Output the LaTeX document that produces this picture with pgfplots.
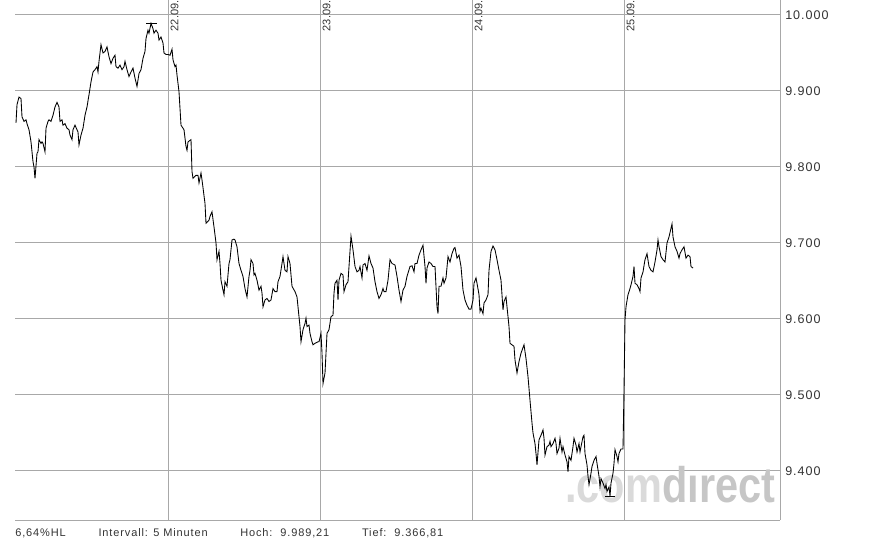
\documentclass[border=0pt]{standalone}
\usepackage{pgfplots}
\pgfplotsset{compat=1.18}
\usepackage{pgfplotstable}
\usepackage{fontspec}
\setmainfont{Liberation Sans}
\newfontfamily\spaced[LetterSpace=8]{Liberation Sans}

\definecolor{gridgray}{HTML}{A8A8A8}
\definecolor{labelgray}{HTML}{333333}
\definecolor{wmlight}{HTML}{DADADA}
\definecolor{wmdark}{HTML}{C6C6C6}

% x = 5-minute interval index (152 per trading day), y = index value
\pgfplotstableread{
x y
1 9858
2 9882
4 9892
6 9890
7 9866
9 9860
11 9862
12 9857
14 9849
16 9833
18 9807
19 9800
20 9785
22 9818
23 9820
24 9836
26 9831
27 9833
28 9831
30 9820
31 9851
33 9860
34 9862
36 9860
38 9868
40 9879
42 9885
44 9879
45 9860
47 9862
48 9855
50 9857
52 9851
54 9849
55 9842
57 9836
58 9849
60 9855
62 9849
63 9846
64 9829
66 9842
68 9851
70 9868
72 9879
74 9895
76 9912
78 9925
80 9928
82 9932
83 9925
84 9939
86 9961
88 9950
90 9952
92 9958
94 9945
96 9936
98 9943
100 9947
101 9932
103 9930
105 9934
107 9928
109 9932
110 9939
112 9928
114 9919
116 9925
118 9930
120 9917
122 9906
124 9923
126 9928
128 9943
130 9952
131 9969
133 9980
134 9976
136 9989
138 9982
139 9976
141 9980
143 9976
144 9967
146 9971
148 9963
149 9950
151 9948
153 9948
155 9947
157 9955
158 9941
160 9932
161 9934
162 9921
164 9899
166 9855
169 9849
171 9827
172 9822
173 9833
176 9836
177 9794
178 9785
181 9789
183 9789
184 9779
186 9792
187 9783
190 9752
191 9726
194 9730
195 9735
197 9741
199 9721
201 9700
202 9678
204 9689
205 9673
206 9651
208 9638
209 9632
210 9649
212 9643
214 9673
215 9678
217 9704
219 9705
220 9704
222 9695
224 9673
226 9664
228 9656
230 9640
232 9629
234 9656
235 9664
236 9678
238 9673
239 9658
240 9660
242 9651
244 9638
246 9643
247 9634
248 9616
250 9625
252 9627
254 9623
256 9625
258 9640
260 9636
262 9636
263 9649
265 9656
267 9673
268 9682
270 9664
272 9662
273 9682
275 9673
277 9643
280 9636
282 9629
284 9603
285 9590
286 9570
288 9586
290 9594
291 9601
292 9590
294 9592
295 9581
297 9570
298 9566
300 9568
303 9570
304 9570
306 9581
307 9555
308 9515
310 9529
311 9555
312 9581
314 9586
316 9603
318 9605
319 9634
320 9647
322 9651
323 9625
324 9651
326 9660
328 9658
329 9636
331 9645
333 9649
334 9669
336 9709
337 9700
338 9691
340 9669
342 9662
344 9664
345 9669
347 9654
348 9671
350 9673
352 9664
354 9683
356 9673
358 9667
360 9649
362 9636
364 9627
366 9632
368 9640
369 9636
371 9636
373 9651
375 9678
377 9673
380 9671
382 9656
384 9638
386 9623
388 9638
390 9643
392 9656
395 9669
397 9670
399 9662
400 9673
402 9673
404 9684
406 9691
408 9697
410 9669
411 9647
412 9667
414 9675
416 9673
418 9669
420 9669
422 9616
423 9607
424 9643
426 9643
428 9654
429 9647
431 9654
433 9682
435 9675
437 9686
439 9693
440 9694
442 9680
444 9684
446 9669
448 9638
450 9625
452 9618
454 9613
456 9613
458 9625
459 9647
461 9654
462 9647
464 9632
465 9610
466 9614
468 9607
469 9621
471 9625
473 9632
474 9664
476 9689
478 9696
480 9691
482 9678
484 9664
486 9651
488 9612
489 9623
491 9629
492 9616
494 9590
495 9568
497 9566
499 9564
500 9546
502 9529
504 9544
506 9555
509 9566
511 9548
513 9524
515 9493
517 9463
518 9450
520 9436
521 9423
522 9408
524 9441
526 9447
528 9454
529 9443
530 9421
532 9432
534 9434
535 9439
536 9432
538 9436
540 9443
541 9436
542 9423
544 9430
545 9443
547 9425
548 9432
550 9421
552 9412
553 9399
554 9419
556 9414
558 9432
559 9443
561 9434
562 9425
564 9436
565 9425
566 9432
568 9445
569 9447
570 9423
572 9408
573 9393
574 9382
576 9397
577 9406
579 9414
581 9419
582 9410
584 9393
585 9379
586 9390
588 9384
590 9377
591 9382
592 9373
594 9379
595 9367
596 9384
598 9397
599 9410
600 9428
602 9419
603 9412
604 9423
606 9429
608 9429
609 9507
610 9599
611 9616
613 9632
615 9640
616 9645
618 9656
619 9669
620 9647
622 9645
624 9640
625 9636
626 9654
628 9662
630 9678
632 9686
634 9669
636 9664
638 9662
640 9675
642 9691
643 9704
644 9695
646 9682
648 9678
650 9675
652 9700
654 9708
657 9725
658 9708
660 9695
662 9689
664 9680
665 9686
667 9691
669 9695
671 9680
673 9684
675 9682
676 9669
678 9667
}\kurs

\begin{document}
\begin{tikzpicture}[x=1pt,y=1pt]
\useasboundingbox (0,0) rectangle (671.25,406.5);
\begin{axis}[
    at={(11.25pt,16.5pt)}, anchor=south west,
    scale only axis, width=573.75pt, height=390pt,
    xmin=0, xmax=765,
    ymin=9335.5, ymax=10019.7,
    axis x line*=bottom, axis y line*=right,
    axis line style={gridgray, line width=0.75pt, -},
    xtick={153,305,457,609}, xticklabels={},
    ytick={9400,9500,...,10000},
    scaled y ticks=false,
    grid=major,
    grid style={gridgray, line width=0.75pt},
    major tick length=0pt,
    yticklabel style={
        /pgf/number format/.cd, fixed, precision=0, 1000 sep={.}, assume math mode=true,
        /tikz/.cd, font=\spaced\fontsize{9.4}{11}\selectfont,
        text=labelgray, anchor=west, inner sep=0pt, xshift=3.75pt},
    clip=false,
]
\node[anchor=base west, inner sep=0pt, font=\fontsize{37.5}{40}\selectfont\bfseries]
    at (axis cs:550,9357.9)
    {\scalebox{0.83}[1]{\textcolor{wmlight}{.com}\textcolor{wmdark}{d\i rect}}};

\foreach \xd/\lab in {153/22.09., 305/23.09., 457/24.09., 609/25.09.} {
    \edef\tmp{\noexpand\node[rotate=90, anchor=north east, inner sep=0pt,
        font=\noexpand\fontsize{8.25}{9}\noexpand\selectfont, text=labelgray]
        at (axis cs:\xd+2.5,10019.2) {\lab};}
    \tmp
}

\addplot[black, line width=0.65pt, mark=none] table[x=x, y=y] {\kurs};
% Hoch / Tief markers
\addplot[black, line width=0.65pt, mark=none] coordinates {(131,9989.21) (142,9989.21)};
\addplot[black, line width=0.65pt, mark=none] coordinates {(590,9366.81) (600,9366.81)};
\end{axis}

\begin{scope}[every node/.style={anchor=base west, inner sep=0pt,
        font=\spaced\fontsize{8.25}{10}\selectfont, text=labelgray}]
\node at (11.25,4) {6,64\%HL};
\node at (73.7,4) {Intervall: 5 Minuten};
\node at (180,4) {Hoch:\ \ 9.989,21};
\node at (271.3,4) {Tief:\ \ 9.366,81};
\end{scope}
\end{tikzpicture}
\end{document}
